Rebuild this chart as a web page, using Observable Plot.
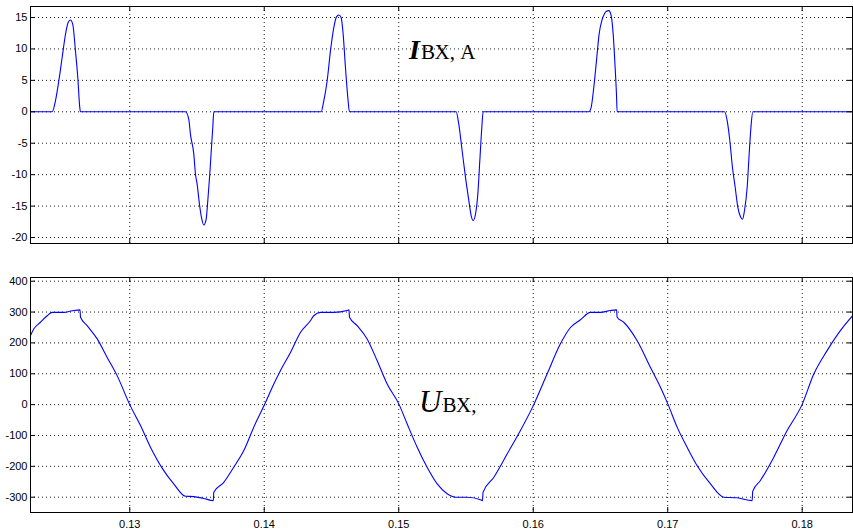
<!DOCTYPE html>
<html><head><meta charset="utf-8">
<script src="https://cdn.jsdelivr.net/npm/d3@7"></script>
<script src="https://cdn.jsdelivr.net/npm/@observablehq/plot@0.6"></script>
<style>
body{margin:0;background:#fff}
#c{position:relative;width:853px;height:531px;overflow:hidden}
#c>div{position:absolute;left:0}
</style>
</head><body><div id="c"><div id="top" style="top:0px"></div><div id="bot" style="top:260px"></div></div>
<script>
const xTicks = [0.13, 0.14, 0.15, 0.16, 0.17, 0.18];
const currentTicks = [-20, -15, -10, -5, 0, 5, 10, 15];
const voltageTicks = [-300, -200, -100, 0, 100, 200, 300, 400];

const currentTime = [
  0.12262,
  0.124227, 0.124475, 0.124723, 0.124971, 0.125219, 0.125417, 0.125590, 0.125764, 0.125962, 0.126135, 0.126284, 0.126334,
  0.134142, 0.134390, 0.134514, 0.134761, 0.134885, 0.135010, 0.135183, 0.135332, 0.135505, 0.135679, 0.135802, 0.135951, 0.136075, 0.136174, 0.136249,
  0.144230, 0.144428, 0.144677, 0.144924, 0.145172, 0.145370, 0.145544, 0.145718, 0.145866, 0.146040, 0.146213, 0.146337,
  0.154269, 0.154467, 0.154715, 0.154962, 0.155211, 0.155385, 0.155533, 0.155707, 0.155880, 0.156029, 0.156178, 0.156276,
  0.164134, 0.164307, 0.164505, 0.164703, 0.164902, 0.165100, 0.165298, 0.165443, 0.165621, 0.165795, 0.165944, 0.166092, 0.166190, 0.166240,
  0.174222, 0.174421, 0.174619, 0.174817, 0.175016, 0.175214, 0.175412, 0.175561, 0.175710, 0.175909, 0.176057, 0.176206, 0.176330,
  0.18374
];
const currentValue = [
  0,
  0, 1.75, 4.9, 8.6, 12.3, 14.2, 14.6, 13.9, 9.7, 5.5, 0.7, 0,
  0, -1.2, -3.6, -6.7, -9.9, -11.5, -14.7, -16.8, -18, -17.1, -14.2, -9.9, -5.7, -2.5, 0,
  0, 1.75, 4.9, 9.7, 13.4, 15.1, 15.4, 15, 12.4, 7, 2.3, 0,
  0, -2, -6.2, -10.4, -14.1, -16.5, -17.3, -16.3, -13.1, -7.8, -2.5, 0,
  0, 0.7, 3.9, 8.1, 12.4, 14.5, 15.6, 16.0, 16.1, 15.3, 12.4, 7, 2.8, 0,
  0, -1.4, -4.6, -8.9, -12, -15.2, -16.7, -17.1, -15.7, -12, -6.7, -2, 0,
  0
];

const voltageTime = [
  0.12262, 0.12286, 0.12336, 0.12386, 0.12423, 0.12509, 0.12572, 0.12630, 0.12634, 0.12683, 0.12758, 0.12832, 0.12906,
  0.13000, 0.13080, 0.13154, 0.13253, 0.13327, 0.13414, 0.13476, 0.13550, 0.13621, 0.13625, 0.13699, 0.13773, 0.13848, 0.13922,
  0.14004, 0.14071, 0.14120, 0.14195, 0.14269, 0.14343, 0.14368, 0.14418, 0.14517, 0.14616, 0.14630, 0.14634, 0.14691, 0.14765, 0.14839, 0.14914,
  0.15003, 0.15063, 0.15137, 0.15211, 0.15286, 0.15360, 0.15422, 0.15509, 0.15608, 0.15623, 0.15627, 0.15706, 0.15806, 0.15905,
  0.16004, 0.16103, 0.16202, 0.16277, 0.16351, 0.16425, 0.16500, 0.16574, 0.16620, 0.16624, 0.16673, 0.16773, 0.16871, 0.16946,
  0.17003, 0.17070, 0.17144, 0.17219, 0.17318, 0.17417, 0.17516, 0.17628, 0.17632, 0.17689, 0.17788, 0.17888,
  0.17999, 0.18086, 0.18185, 0.18284, 0.18374
];
const voltageValue = [
  224, 245, 267, 288, 299, 299, 304, 307, 283, 256, 213, 153, 94,
  0, -68, -138, -214, -257, -297, -298, -304, -311, -284, -252, -203, -149, -73,
  2, 67, 110, 169, 234, 272, 288, 299, 299, 305, 307, 283, 256, 213, 143, 67,
  0, -63, -138, -203, -257, -289, -300, -300, -308, -311, -284, -236, -160, -84,
  0, 99, 197, 250, 275, 299, 299, 305, 307, 283, 267, 207, 121, 56,
  0, -73, -138, -198, -257, -300, -302, -311, -281, -246, -171, -84,
  0, 99, 175, 240, 288
];

const currentLabel = ["I", "ВХ, А"];
const voltageLabel = ["U", "ВХ,"];

const currentData = currentTime.map((t, i) => ({t, v: currentValue[i]}));
const voltageData = voltageTime.map((t, i) => ({t, v: voltageValue[i]}));

const W = 853, ML = 30, MR = 1;
const plotW = W - ML - MR;
const tickLen = 5;
const xDomain = [0.12262, 0.18374];
const gridStyle = {stroke: "black", strokeOpacity: 0.9, strokeDasharray: "1,3", strokeWidth: 1};
const fontStyle = {fontFamily: "'Liberation Sans', Arial, sans-serif", fontSize: "11px", color: "black", background: "white"};

function panel({data, yTicks, yDomain, height, marginTop, marginBottom, showX, labels, labelAt, mainSize, mainWeight}) {
  const plotH = height - marginTop - marginBottom;
  const marks = [
    Plot.gridX(xTicks, gridStyle),
    Plot.gridY(yTicks, gridStyle),
    Plot.line(data, {x: "t", y: "v", stroke: "#0000ff", strokeWidth: 1.1, curve: "monotone-x", clip: true}),
    Plot.frame({stroke: "black", strokeWidth: 1}),
    Plot.tickY(yTicks, {y: d => d, stroke: "black", insetRight: plotW - tickLen}),
    Plot.tickY(yTicks, {y: d => d, stroke: "black", insetLeft: plotW - tickLen}),
    Plot.tickX(xTicks, {x: d => d, stroke: "black", insetTop: plotH - tickLen}),
    Plot.tickX(xTicks, {x: d => d, stroke: "black", insetBottom: plotH - tickLen}),
    Plot.axisY(yTicks, {anchor: "left", tickSize: 0, tickPadding: 3, tickFormat: d => String(d), label: null}),
    Plot.text([labels[0]], {x: labelAt[0], y: labelAt[1], text: d => d, textAnchor: "end", lineAnchor: "bottom",
      fontFamily: "'Liberation Serif', 'Times New Roman', serif", fontSize: mainSize, fontStyle: "italic", fontWeight: mainWeight, fill: "black"}),
    Plot.text([labels[1]], {x: labelAt[0], y: labelAt[1], text: d => d, textAnchor: "start", lineAnchor: "bottom", dx: 1,
      fontFamily: "'Liberation Serif', 'Times New Roman', serif", fontSize: 21, fill: "black"})
  ];
  if (showX) marks.push(Plot.axisX(xTicks, {anchor: "bottom", tickSize: 0, tickPadding: 8, tickFormat: d => String(d), label: null}));
  return Plot.plot({
    width: W, height, marginLeft: ML, marginRight: MR, marginTop, marginBottom,
    style: fontStyle,
    x: {domain: xDomain, axis: null},
    y: {domain: yDomain, axis: null},
    marks
  });
}

document.getElementById("top").append(panel({
  data: currentData, yTicks: currentTicks, yDomain: [-20.95, 16.75],
  height: 260, marginTop: 6, marginBottom: 17, showX: false,
  labels: currentLabel, labelAt: [0.15158, 8.4], mainSize: 28, mainWeight: "bold"
}));
document.getElementById("bot").append(panel({
  data: voltageData, yTicks: voltageTicks, yDomain: [-349.6, 412],
  height: 271, marginTop: 17, marginBottom: 19, showX: true,
  labels: voltageLabel, labelAt: [0.15318, -25], mainSize: 31, mainWeight: "normal"
}));
</script>
</body></html>
